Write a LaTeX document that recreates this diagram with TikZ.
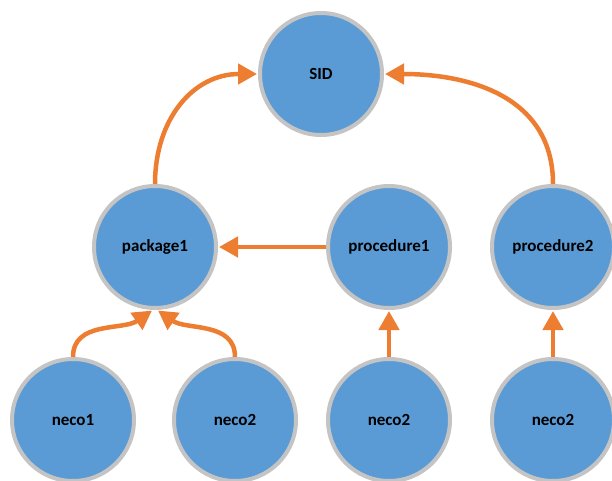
\documentclass[tikz,border=0pt]{standalone}
\usepackage{fontspec}
\setmainfont{Carlito}
\usetikzlibrary{arrows.meta}
\definecolor{nodeblue}{HTML}{5B9BD5}
\definecolor{ringgray}{HTML}{C4C4C4}
\definecolor{linkorange}{HTML}{ED7D31}
\tikzset{
  item/.style={circle, draw=ringgray, line width=4pt, fill=nodeblue,
    minimum size=122pt, inner sep=0pt,
    font=\fontsize{17}{19}\selectfont\bfseries, text=black},
  link/.style={draw=linkorange, line width=4.5pt,
    -{Triangle[length=19pt,width=20pt]}, shorten >=1pt}
}
\begin{document}
\begin{tikzpicture}[x=1pt,y=-1pt]
  \useasboundingbox (0,0) rectangle (612,481);
  % tree of items
  \node[item] (sid)   at (321,74)  {SID};
  \node[item] (pkg)   at (155,247) {package1};
  \node[item] (proca) at (389,247) {procedure1};
  \node[item] (procb) at (553,247) {procedure2};
  \node[item] (na)    at (73,420)  {neco1};
  \node[item] (nb)    at (235,420) {neco2};
  \node[item] (nc)    at (389,420) {neco2};
  \node[item] (nd)    at (553,420) {neco2};
  % dependency arrows
  \draw[link] (pkg.north) to[out=90,in=180,looseness=1.1] (sid.west);
  \draw[link] (procb.north) to[out=90,in=0,looseness=1.1] (sid.east);
  \draw[link] (proca.west) -- (pkg.east);
  \draw[link] (na.north) to[out=90,in=-145] (pkg.-92);
  \draw[link] (nb.north) to[out=90,in=-35] (pkg.-88);
  \draw[link] (nc.north) -- (proca.south);
  \draw[link] (nd.north) -- (procb.south);
\end{tikzpicture}
\end{document}
